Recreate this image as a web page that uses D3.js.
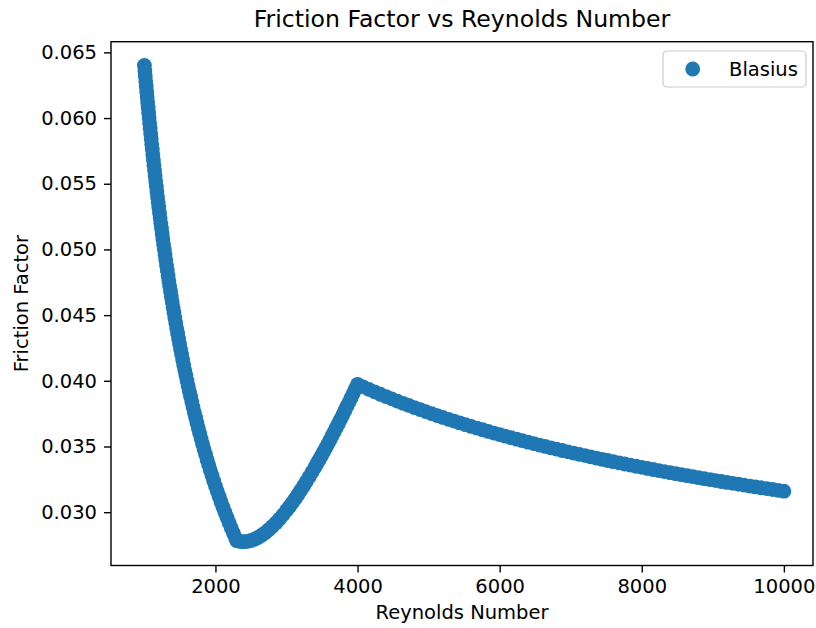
<!DOCTYPE html>
<html>
<head>
<meta charset="utf-8">
<script src="https://cdn.jsdelivr.net/npm/d3@7/dist/d3.min.js"></script>
<style>
  body { margin: 0; background: #fff; }
  svg { display: block; }
  text { font-family: "DejaVu Sans", sans-serif; fill: #000; }
</style>
</head>
<body>
<svg id="chart" width="816" height="628"></svg>
<script>
// Laminar branch (Re, friction factor)
const laminarRe = [
  1000, 1006.29, 1012.66, 1019.11, 1025.64, 1032.26, 1038.96, 1045.75, 1052.63, 1059.60,
  1066.67, 1073.83, 1081.08, 1088.44, 1095.89, 1103.45, 1111.11, 1118.88, 1126.76, 1134.75,
  1142.86, 1151.08, 1159.42, 1167.88, 1176.47, 1185.19, 1194.03, 1203.01, 1212.12, 1221.37,
  1230.77, 1240.31, 1250, 1259.84, 1269.84, 1280, 1290.32, 1300.81, 1311.48, 1322.31,
  1333.33, 1344.54, 1355.93, 1367.52, 1379.31, 1391.30, 1403.51, 1415.93, 1428.57, 1441.44,
  1454.55, 1467.89, 1481.48, 1495.33, 1509.43, 1523.81, 1538.46, 1553.40, 1568.63, 1584.16,
  1600, 1616.16, 1632.65, 1649.48, 1666.67, 1684.21, 1702.13, 1720.43, 1739.13, 1758.24,
  1777.78, 1797.75, 1818.18, 1839.08, 1860.47, 1882.35, 1904.76, 1927.71, 1951.22, 1975.31,
  2000, 2025.32, 2051.28, 2077.92, 2105.26, 2133.33, 2162.16, 2191.78, 2222.22, 2253.52,
  2285.71, 2300
];
const laminarF = [
  0.0640, 0.0636, 0.0632, 0.0628, 0.0624, 0.0620, 0.0616, 0.0612, 0.0608, 0.0604,
  0.0600, 0.0596, 0.0592, 0.0588, 0.0584, 0.0580, 0.0576, 0.0572, 0.0568, 0.0564,
  0.0560, 0.0556, 0.0552, 0.0548, 0.0544, 0.0540, 0.0536, 0.0532, 0.0528, 0.0524,
  0.0520, 0.0516, 0.0512, 0.0508, 0.0504, 0.0500, 0.0496, 0.0492, 0.0488, 0.0484,
  0.0480, 0.0476, 0.0472, 0.0468, 0.0464, 0.0460, 0.0456, 0.0452, 0.0448, 0.0444,
  0.0440, 0.0436, 0.0432, 0.0428, 0.0424, 0.0420, 0.0416, 0.0412, 0.0408, 0.0404,
  0.0400, 0.0396, 0.0392, 0.0388, 0.0384, 0.0380, 0.0376, 0.0372, 0.0368, 0.0364,
  0.0360, 0.0356, 0.0352, 0.0348, 0.0344, 0.0340, 0.0336, 0.0332, 0.0328, 0.0324,
  0.0320, 0.0316, 0.0312, 0.0308, 0.0304, 0.0300, 0.0296, 0.0292, 0.0288, 0.0284,
  0.0280, 0.02783
];

// Transition branch
const transitionRe = [
  2350, 2400, 2450, 2500, 2550, 2600, 2650, 2700, 2750, 2800, 2850, 2900, 2950, 3000,
  3040, 3080, 3120, 3160, 3200, 3240, 3280, 3320, 3360, 3400,
  3430, 3460, 3490, 3520, 3550, 3580, 3610, 3640, 3670, 3700,
  3730, 3760, 3790, 3820, 3850, 3880, 3910, 3940, 3970, 4000
];
const transitionF = [
  0.027768, 0.027754, 0.027781, 0.027846, 0.027947, 0.028081, 0.028246, 0.028441, 0.028663, 0.028911,
  0.029183, 0.029478, 0.029794, 0.030131,
  0.030413, 0.030708, 0.031013, 0.031329, 0.031655, 0.031990, 0.032335, 0.032689, 0.033051, 0.033421,
  0.033703, 0.033990, 0.034281, 0.034575, 0.034874, 0.035176, 0.035482, 0.035791, 0.036104, 0.036419,
  0.036738, 0.037060, 0.037385, 0.037713, 0.038043, 0.038377, 0.038713, 0.039051, 0.039392, 0.039735
];

// Turbulent branch (Blasius)
const turbulentRe = [
  4080, 4160, 4240, 4320, 4400, 4480, 4560, 4640, 4720, 4800,
  4880, 4960, 5040, 5120, 5200, 5280, 5360, 5440, 5520, 5600,
  5680, 5760, 5840, 5920, 6000, 6080, 6160, 6240, 6320, 6400,
  6480, 6560, 6640, 6720, 6800, 6880, 6960, 7040, 7120, 7200,
  7280, 7360, 7440, 7520, 7600, 7680, 7760, 7840, 7920, 8000,
  8080, 8160, 8240, 8320, 8400, 8480, 8560, 8640, 8720, 8800,
  8880, 8960, 9040, 9120, 9200, 9280, 9360, 9440, 9520, 9600,
  9680, 9760, 9840, 9920, 10000
];
const turbulentF = [
  0.039539, 0.039347, 0.039160, 0.038978, 0.038799, 0.038625, 0.038454, 0.038288, 0.038124, 0.037964,
  0.037808, 0.037654, 0.037504, 0.037357, 0.037212, 0.037071, 0.036931, 0.036795, 0.036661, 0.036529,
  0.036400, 0.036273, 0.036148, 0.036025, 0.035905, 0.035786, 0.035669, 0.035554, 0.035441, 0.035330,
  0.035220, 0.035112, 0.035006, 0.034902, 0.034798, 0.034697, 0.034597, 0.034498, 0.034401, 0.034305,
  0.034210, 0.034117, 0.034025, 0.033934, 0.033844, 0.033756, 0.033668, 0.033582, 0.033497, 0.033413,
  0.033330, 0.033248, 0.033167, 0.033087, 0.033008, 0.032930, 0.032853, 0.032776, 0.032701, 0.032626,
  0.032553, 0.032480, 0.032408, 0.032336, 0.032266, 0.032196, 0.032127, 0.032059, 0.031991, 0.031924,
  0.031858, 0.031793, 0.031728, 0.031664, 0.031600
];

const xTicks = [2000, 4000, 6000, 8000, 10000];
const yTicks = [0.030, 0.035, 0.040, 0.045, 0.050, 0.055, 0.060, 0.065];
const xLimits = [530, 10410];
const seriesName = "Blasius";
const chartTitle = "Friction Factor vs Reynolds Number";
const xLabel = "Reynolds Number";
const yLabel = "Friction Factor";

const reynolds = laminarRe.concat(transitionRe, turbulentRe);
const friction = laminarF.concat(transitionF, turbulentF);
const points = reynolds.map((re, i) => ({ re, f: friction[i] }));

const plot = { left: 111, right: 813, top: 41.7, bottom: 565.5 };
const color = "#1f77b4";
const markerR = 7.4;

// y limits: 5% padding around the data range
function padded(ext) {
  const p = (ext[1] - ext[0]) * 0.05;
  return [ext[0] - p, ext[1] + p];
}
const x = d3.scaleLinear().domain(xLimits).range([plot.left, plot.right]);
const y = d3.scaleLinear().domain(padded(d3.extent(friction))).range([plot.bottom, plot.top]);

const svg = d3.select("#chart");

// scatter markers
svg.append("g")
  .selectAll("circle")
  .data(points)
  .join("circle")
  .attr("cx", d => x(d.re))
  .attr("cy", d => y(d.f))
  .attr("r", markerR)
  .attr("fill", color);

// axes
const xAxis = svg.append("g")
  .attr("transform", `translate(0,${plot.bottom})`)
  .call(d3.axisBottom(x).tickValues(xTicks).tickFormat(d3.format("d")).tickSize(7).tickPadding(7));
const yAxis = svg.append("g")
  .attr("transform", `translate(${plot.left},0)`)
  .call(d3.axisLeft(y).tickValues(yTicks).tickFormat(d3.format(".3f")).tickSize(7).tickPadding(7));

[xAxis, yAxis].forEach(g => {
  g.select(".domain").remove();
  g.selectAll(".tick line").attr("stroke", "#000").attr("stroke-width", 1.4);
  g.selectAll(".tick text")
    .attr("fill", "#000")
    .style("font-size", "19.5px")
    .style("font-family", '"DejaVu Sans", sans-serif');
});

// frame
svg.append("rect")
  .attr("x", plot.left)
  .attr("y", plot.top)
  .attr("width", plot.right - plot.left)
  .attr("height", plot.bottom - plot.top)
  .attr("fill", "none")
  .attr("stroke", "#000")
  .attr("stroke-width", 1.4);

// title and axis labels
svg.append("text")
  .attr("x", (plot.left + plot.right) / 2)
  .attr("y", 27)
  .attr("text-anchor", "middle")
  .style("font-size", "23.6px")
  .text(chartTitle);

svg.append("text")
  .attr("x", (plot.left + plot.right) / 2)
  .attr("y", 619)
  .attr("text-anchor", "middle")
  .style("font-size", "19.5px")
  .text(xLabel);

svg.append("text")
  .attr("transform", `translate(28,${(plot.top + plot.bottom) / 2}) rotate(-90)`)
  .attr("text-anchor", "middle")
  .style("font-size", "19.5px")
  .text(yLabel);

// legend
const legend = svg.append("g").attr("transform", "translate(663,51)");
legend.append("rect")
  .attr("width", 143)
  .attr("height", 36)
  .attr("rx", 4)
  .attr("fill", "#fff")
  .attr("fill-opacity", 0.8)
  .attr("stroke", "#cccccc")
  .attr("stroke-width", 1.2);
legend.append("circle")
  .attr("cx", 29.7)
  .attr("cy", 18)
  .attr("r", markerR)
  .attr("fill", color);
legend.append("text")
  .attr("x", 66)
  .attr("y", 18)
  .attr("dy", "0.36em")
  .style("font-size", "19.5px")
  .text(seriesName);
</script>
</body>
</html>
